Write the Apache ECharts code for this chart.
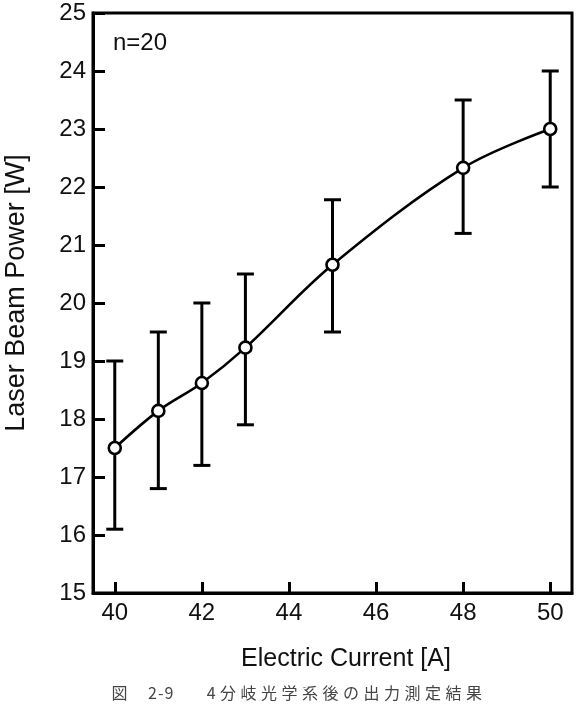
<!DOCTYPE html>
<html>
<head>
<meta charset="utf-8">
<script src="https://cdn.jsdelivr.net/npm/echarts@6/dist/echarts.min.js"></script>
<style>
  body { margin: 0; background: #fff; }
  #wrap { position: relative; width: 576px; height: 706px; }
  #chart { width: 576px; height: 706px; }
  #caption {
    position: absolute; left: 0; top: 680px; width: 576px;
    text-align: center; font-family: "Noto Sans CJK JP"; font-size: 16px;
    letter-spacing: 4.5px; color: #444; padding-left: 22px; box-sizing: border-box;
  }
  #caption span { letter-spacing: 1px; }
</style>
</head>
<body>
<div id="wrap">
  <div id="chart"></div>
  <div id="caption">図&nbsp;&nbsp;<span>2-9</span>&nbsp;&nbsp;&nbsp;&nbsp;4分岐光学系後の出力測定結果</div>
</div>
<script>
// 測定データ
var current = [40, 41, 42, 43, 45, 48, 50];
var power = [17.5, 18.14, 18.62, 19.23, 20.66, 22.33, 23.0];
var errLow = [16.1, 16.8, 17.2, 17.9, 19.5, 21.2, 22.0];
var errHigh = [19.0, 19.5, 20.0, 20.5, 21.78, 23.5, 24.0];
var xTicks = [40, 42, 44, 46, 48, 50];

var font = 'Liberation Sans';
var chart = echarts.init(document.getElementById('chart'));

var lineData = [];
var barData = [];
for (var i = 0; i < current.length; i++) {
  lineData.push([current[i], power[i]]);
  barData.push([current[i], errLow[i], errHigh[i]]);
}

var option = {
  animation: false,
  grid: {
    left: 93, top: 13, right: 4, bottom: 113,
    outerBoundsMode: 'none',
    containLabel: false,
    show: true, borderColor: '#000', borderWidth: 3
  },
  xAxis: {
    type: 'value',
    min: 39.5,
    max: 50.5,
    name: 'Electric Current [A]',
    nameLocation: 'middle',
    nameGap: 54,
    nameTextStyle: { fontFamily: font, fontSize: 25, color: '#111', padding: [0, 0, 0, 27] },
    splitLine: { show: false },
    axisLine: { lineStyle: { color: '#000', width: 3 } },
    axisTick: { inside: true, length: 11, lineStyle: { color: '#000', width: 3 }, customValues: xTicks },
    axisLabel: { fontFamily: font, fontSize: 24, color: '#111', margin: 8, customValues: xTicks }
  },
  yAxis: {
    type: 'value',
    min: 15,
    max: 25,
    interval: 1,
    name: 'Laser Beam Power [W]',
    nameLocation: 'middle',
    nameGap: 63,
    nameTextStyle: { fontFamily: font, fontSize: 27, color: '#111', padding: [0, 0, 0, 20] },
    splitLine: { show: false },
    axisLine: { lineStyle: { color: '#000', width: 3 } },
    axisTick: { inside: true, length: 12, lineStyle: { color: '#000', width: 3 } },
    axisLabel: { fontFamily: font, fontSize: 24, color: '#111', margin: 7 }
  },
  graphic: [{
    type: 'text',
    left: 113,
    top: 31,
    style: { text: 'n=20', fontFamily: font, fontSize: 24, fill: '#111' }
  }],
  series: [
    {
      type: 'custom',
      z: 2,
      data: barData,
      renderItem: function (params, api) {
        var x = api.value(0);
        var lo = api.coord([x, api.value(1)]);
        var hi = api.coord([x, api.value(2)]);
        var w = 8.5;
        var st = { stroke: '#000', lineWidth: 3 };
        return {
          type: 'group',
          children: [
            { type: 'line', shape: { x1: lo[0], y1: lo[1], x2: hi[0], y2: hi[1] }, style: st },
            { type: 'line', shape: { x1: lo[0] - w, y1: lo[1], x2: lo[0] + w, y2: lo[1] }, style: st },
            { type: 'line', shape: { x1: hi[0] - w, y1: hi[1], x2: hi[0] + w, y2: hi[1] }, style: st }
          ]
        };
      }
    },
    {
      type: 'line',
      z: 5,
      data: lineData,
      smooth: 0.35,
      symbol: 'circle',
      symbolSize: 12,
      showAllSymbol: true,
      lineStyle: { color: '#000', width: 2.6 },
      itemStyle: { color: '#fff', borderColor: '#000', borderWidth: 2.6 }
    }
  ]
};
chart.setOption(option);
</script>
</body>
</html>
